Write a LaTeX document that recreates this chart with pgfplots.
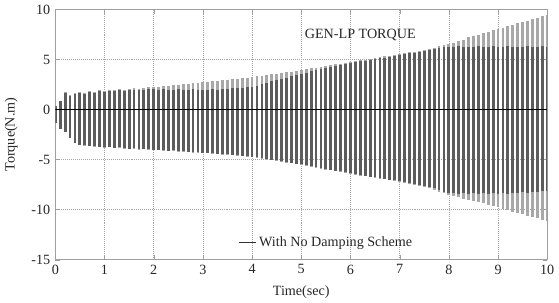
\documentclass[border=0pt]{standalone}
\usepackage{pgfplots}
\pgfplotsset{compat=1.18}
\usepackage{pgfplotstable}
\usepackage{fontspec}
\setmainfont{Liberation Serif}
\definecolor{lightbar}{HTML}{A8A8A8}
\definecolor{darkbar}{HTML}{5C5C5C}
\pgfplotstableread{
t uo lo ui li
0.0 0.4 -1.3 0.4 -1.3
0.1 0.9 -1.9 0.9 -1.9
0.2 1.8 -2.2 1.7 -2.2
0.3 1.5 -2.8 1.4 -2.8
0.4 1.7 -3.3 1.6 -3.3
0.5 1.8 -3.5 1.7 -3.5
0.6 1.7 -3.6 1.6 -3.5
0.7 1.9 -3.6 1.8 -3.6
0.8 1.8 -3.7 1.7 -3.6
0.9 2.0 -3.7 1.9 -3.7
1.0 1.9 -3.8 1.8 -3.7
1.1 2.0 -3.7 1.9 -3.7
1.2 2.0 -3.8 1.9 -3.8
1.3 2.1 -3.8 2.0 -3.7
1.4 2.0 -3.9 1.9 -3.8
1.5 2.1 -3.9 2.0 -3.9
1.6 2.2 -3.9 2.0 -3.8
1.7 2.1 -4.0 2.0 -3.9
1.8 2.2 -3.9 2.0 -3.9
1.9 2.3 -4.0 2.1 -3.9
2.0 2.3 -4.0 2.1 -4.0
2.1 2.3 -4.0 2.0 -4.0
2.2 2.4 -4.1 2.1 -4.0
2.3 2.4 -4.1 2.0 -4.1
2.4 2.5 -4.1 2.0 -4.0
2.5 2.5 -4.2 2.1 -4.1
2.6 2.6 -4.2 2.0 -4.1
2.7 2.6 -4.2 2.0 -4.2
2.8 2.7 -4.3 2.1 -4.2
2.9 2.7 -4.3 2.0 -4.2
3.0 2.8 -4.3 2.0 -4.3
3.1 2.8 -4.3 2.0 -4.3
3.2 2.9 -4.4 2.1 -4.3
3.3 2.9 -4.4 2.0 -4.4
3.4 3.0 -4.5 2.1 -4.4
3.5 3.0 -4.5 2.1 -4.4
3.6 3.1 -4.5 2.2 -4.5
3.7 3.1 -4.6 2.2 -4.5
3.8 3.2 -4.6 2.2 -4.6
3.9 3.2 -4.7 2.3 -4.6
4.0 3.3 -4.7 2.3 -4.7
4.1 3.4 -4.8 2.4 -4.7
4.2 3.4 -4.9 2.6 -4.8
4.3 3.5 -5.0 2.7 -4.9
4.4 3.6 -5.0 2.9 -5.0
4.5 3.6 -5.1 3.0 -5.0
4.6 3.7 -5.2 3.1 -5.1
4.7 3.8 -5.3 3.2 -5.2
4.8 3.8 -5.3 3.4 -5.3
4.9 3.9 -5.4 3.5 -5.4
5.0 4.0 -5.5 3.6 -5.4
5.1 4.1 -5.6 3.7 -5.5
5.2 4.2 -5.7 3.9 -5.6
5.3 4.2 -5.8 4.0 -5.7
5.4 4.3 -5.9 4.1 -5.8
5.5 4.4 -6.0 4.2 -5.9
5.6 4.5 -6.0 4.3 -6.0
5.7 4.6 -6.1 4.4 -6.1
5.8 4.6 -6.2 4.5 -6.1
5.9 4.7 -6.3 4.6 -6.2
6.0 4.8 -6.4 4.7 -6.3
6.1 4.9 -6.5 4.8 -6.4
6.2 5.0 -6.6 4.9 -6.5
6.3 5.0 -6.6 4.9 -6.6
6.4 5.1 -6.7 5.0 -6.7
6.5 5.2 -6.8 5.1 -6.7
6.6 5.3 -6.9 5.2 -6.8
6.7 5.4 -6.9 5.2 -6.9
6.8 5.4 -7.0 5.3 -7.0
6.9 5.5 -7.1 5.4 -7.0
7.0 5.6 -7.2 5.5 -7.1
7.1 5.7 -7.3 5.6 -7.2
7.2 5.8 -7.4 5.7 -7.3
7.3 5.8 -7.5 5.7 -7.4
7.4 5.9 -7.6 5.8 -7.5
7.5 6.0 -7.7 5.9 -7.6
7.6 6.1 -7.8 6.0 -7.7
7.7 6.2 -8.0 6.1 -7.8
7.8 6.4 -8.2 6.2 -8.0
7.9 6.5 -8.3 6.3 -8.2
8.0 6.6 -8.5 6.3 -8.3
8.1 6.7 -8.6 6.3 -8.3
8.2 6.9 -8.7 6.4 -8.4
8.3 7.0 -8.9 6.3 -8.3
8.4 7.2 -9.0 6.3 -8.4
8.5 7.3 -9.1 6.3 -8.3
8.6 7.4 -9.2 6.4 -8.4
8.7 7.6 -9.3 6.3 -8.3
8.8 7.7 -9.5 6.3 -8.4
8.9 7.9 -9.6 6.4 -8.3
9.0 8.0 -9.7 6.3 -8.4
9.1 8.1 -9.9 6.3 -8.3
9.2 8.3 -10.0 6.4 -8.4
9.3 8.4 -10.2 6.3 -8.3
9.4 8.6 -10.3 6.3 -8.3
9.5 8.7 -10.4 6.3 -8.2
9.6 8.8 -10.6 6.4 -8.3
9.7 9.0 -10.7 6.3 -8.2
9.8 9.1 -10.8 6.3 -8.2
9.9 9.3 -11.0 6.4 -8.1
10.0 9.4 -11.1 6.3 -8.1
}\torque

\begin{document}
\begin{tikzpicture}
\begin{axis}[
  width=348pt, height=177pt, scale only axis,
  xmin=0, xmax=10, ymin=-15, ymax=10,
  xtick={0,1,...,10}, ytick={-15,-10,-5,0,5,10},
  grid=major,
  grid style={densely dotted, gray!70, line width=0.4pt},
  axis line style={gray!75, line width=0.6pt},
  tick style={gray!75},
  tick align=inside, major tick length=3pt,
  ticklabel style={font=\fontsize{10}{12}\selectfont, text=black!85},
  /pgf/number format/assume math mode=true,
  xlabel={Time(sec)}, ylabel={Torque(N.m)},
  label style={font=\fontsize{10}{12}\selectfont, text=black!85},
  xlabel style={yshift=-1pt},
  ylabel style={yshift=3pt},
  legend style={at={(0.552,0.068)}, anchor=center, draw=none, fill=none,
    font=\fontsize{10}{12}\selectfont, text=black!85},
  legend cell align=left,
  legend image code/.code={\draw[black!80, line width=0.5pt] (0cm,0cm) -- (0.42cm,0cm);},
]
\addplot[ycomb, lightbar, line width=2.0pt, forget plot] table[x=t, y=uo]{\torque};
\addplot[ycomb, lightbar, line width=2.0pt, forget plot] table[x=t, y=lo]{\torque};
\addplot[ycomb, darkbar, line width=2.0pt, forget plot] table[x=t, y=ui]{\torque};
\addplot[ycomb, darkbar, line width=2.0pt, forget plot] table[x=t, y=li]{\torque};
\addplot[black, line width=0.5pt, forget plot] coordinates {(0,0) (10,0)};
\addlegendimage{black!80, line width=0.5pt}
\addlegendentry{With No Damping Scheme}
\node[font=\fontsize{10}{12}\selectfont, text=black!85] at (axis cs:6.2,7.5) {GEN-LP TORQUE};
\end{axis}
\end{tikzpicture}
\end{document}
